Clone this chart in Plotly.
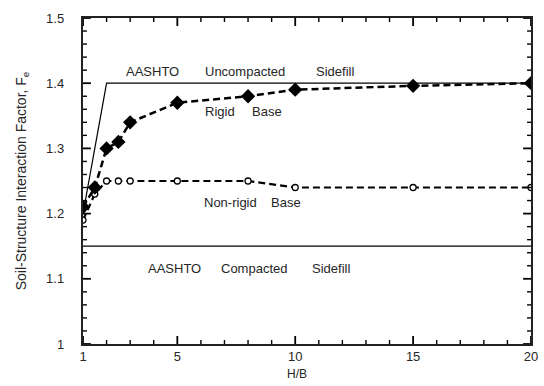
import plotly.graph_objects as go

# Data
rigid_x = [1, 1.5, 2, 2.5, 3, 5, 8, 10, 15, 20]
rigid_y = [1.21, 1.24, 1.30, 1.31, 1.34, 1.37, 1.38, 1.39, 1.396, 1.40]

nonrigid_x = [1, 1.5, 2, 2.5, 3, 5, 8, 10, 15, 20]
nonrigid_y = [1.19, 1.23, 1.25, 1.25, 1.25, 1.25, 1.25, 1.24, 1.24, 1.24]

uncompacted_x = [1, 2, 20]
uncompacted_y = [1.2, 1.4, 1.4]

compacted_x = [1, 20]
compacted_y = [1.15, 1.15]

x_ticks = [1, 5, 10, 15, 20]
x_minor_ticks = [2, 3, 4, 6, 7, 8, 9, 11, 12, 13, 14, 16, 17, 18, 19]
y_ticks = [1, 1.1, 1.2, 1.3, 1.4, 1.5]
y_ticktext = ["1", "1.1", "1.2", "1.3", "1.4", "1.5"]
y_minor_ticks = [1.02, 1.04, 1.06, 1.08, 1.12, 1.14, 1.16, 1.18, 1.22, 1.24, 1.26, 1.28,
                 1.32, 1.34, 1.36, 1.38, 1.42, 1.44, 1.46, 1.48]

FONT = "Liberation Sans, Arial, sans-serif"
TXT = "#262626"
TICKC = "black"

fig = go.Figure()
fig.add_trace(go.Scatter(x=uncompacted_x, y=uncompacted_y, mode="lines",
                         line=dict(color="black", width=1.2), showlegend=False))
fig.add_trace(go.Scatter(x=compacted_x, y=compacted_y, mode="lines",
                         line=dict(color="black", width=1.2), showlegend=False))
fig.add_trace(go.Scatter(x=nonrigid_x, y=nonrigid_y, mode="lines+markers",
                         line=dict(color="black", width=2.2, dash="7px,4px"),
                         marker=dict(symbol="circle", size=6, color="white",
                                     line=dict(color="black", width=1.3)),
                         showlegend=False))
fig.add_trace(go.Scatter(x=rigid_x, y=rigid_y, mode="lines+markers",
                         line=dict(color="black", width=2.5, dash="7px,4px"),
                         marker=dict(symbol="diamond", size=11, color="black"),
                         showlegend=False))

L, R, T, B = 83, 538, 18, 344
PW, PH = R - L, B - T
ann = [
    ("AASHTO", 154, 71.7), ("Uncompacted", 247.5, 71.7), ("Sidefill", 339, 71.7),
    ("Rigid", 222, 111.7), ("Base", 270, 111.7),
    ("Non-rigid", 233, 202), ("Base", 289, 202),
    ("AASHTO", 176, 268.3), ("Compacted", 257, 268.3), ("Sidefill", 335, 268.3),
]
for text, px, py in ann:
    fig.add_annotation(text=text, xref="paper", yref="paper",
                       x=(px - L) / PW, y=(B - py) / PH,
                       showarrow=False, xanchor="center", yanchor="middle",
                       font=dict(family=FONT, size=13, color=TXT))

fig.add_annotation(text="H/B", xref="paper", yref="paper",
                   x=(300 - L) / PW, y=(B - 374) / PH,
                   showarrow=False, xanchor="center", yanchor="middle",
                   font=dict(family=FONT, size=12, color=TXT))

# Inside tick marks on all four sides (drawn as shapes through the axes' scales)
def xtick(v, length, width):
    for y0, y1 in ((0, length / PH), (1, 1 - length / PH)):
        fig.add_shape(type="line", xref="x", yref="paper", x0=v, x1=v, y0=y0, y1=y1,
                      line=dict(color=TICKC, width=width), layer="above")

def ytick(v, length, width):
    for x0, x1 in ((0, length / PW), (1, 1 - length / PW)):
        fig.add_shape(type="line", xref="paper", yref="y", x0=x0, x1=x1, y0=v, y1=v,
                      line=dict(color=TICKC, width=width), layer="above")

for v in x_ticks:
    xtick(v, 8, 1.8)
for v in x_minor_ticks:
    xtick(v, 4, 1.4)
for v in y_ticks:
    ytick(v, 8, 1.8)
for v in y_minor_ticks:
    ytick(v, 4, 1.4)

fig.update_xaxes(range=[1, 20], tickmode="array", tickvals=x_ticks,
                 ticktext=[str(v) for v in x_ticks],
                 showline=True, linecolor="#222", linewidth=1.5, mirror=True,
                 ticks="", showgrid=False, zeroline=False,
                 tickfont=dict(family=FONT, size=13, color=TXT))
fig.update_yaxes(range=[1, 1.5], tickmode="array", tickvals=y_ticks,
                 ticktext=[t + "\u2007\u2007" for t in y_ticktext],
                 showline=True, linecolor="#222", linewidth=1.5, mirror=True,
                 ticks="", showgrid=False, zeroline=False,
                 tickfont=dict(family=FONT, size=13, color=TXT),
                 title=dict(text="Soil-Structure Interaction Factor, F<sub>e</sub>",
                            font=dict(family=FONT, size=14, color=TXT), standoff=16))

fig.update_layout(width=544, height=386, margin=dict(l=L, r=544 - R, t=T, b=386 - B),
                  paper_bgcolor="white", plot_bgcolor="white", showlegend=False)

fig.write_html("out.html", config={"displayModeBar": False},
               post_script="document.body.style.margin='0';document.body.style.overflow='hidden';")
